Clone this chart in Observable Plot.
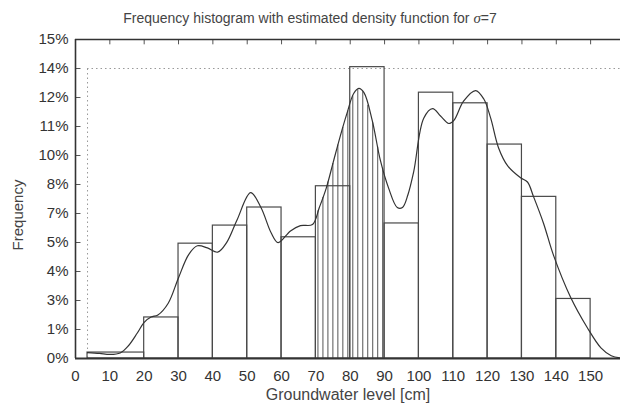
<!DOCTYPE html>
<html>
<head>
<meta charset="utf-8">
<script src="https://cdn.jsdelivr.net/npm/d3@7"></script>
<script src="https://cdn.jsdelivr.net/npm/@observablehq/plot@0.6"></script>
<style>
  html, body { margin: 0; padding: 0; background: #fff; overflow: hidden; }
  #title { width: 620px; height: 30px; line-height: 36px; text-align: center; font-family: "Liberation Sans", Arial, sans-serif; font-size: 14px; color: #444; }
  #title .sig { font-family: "Liberation Serif", "Times New Roman", serif; font-style: italic; font-size: 15px; }
</style>
</head>
<body>
<div id="title">Frequency histogram with estimated density function for <span class="sig">σ</span>=7</div>
<div id="chart"></div>
<script>
// Histogram bins (cm) and relative frequencies (%)
const binStart = [3.5, 20, 30, 40, 50, 60, 70, 80, 90, 100, 110, 120, 130, 140];
const binEnd   = [20, 30, 40, 50, 60, 70, 80, 90, 100, 110, 120, 130, 140, 150];
const freq     = [0.28, 1.93, 5.4, 6.25, 7.1, 5.7, 8.1, 13.7, 6.35, 12.5, 12.0, 10.06, 7.6, 2.8];

// Estimated density curve (sigma = 7)
const curveX = [3.5, 7, 10, 13, 15.4, 18, 20, 22, 24, 27, 30, 33, 35.5, 38.4, 41.4, 44, 47, 51, 54, 57, 59, 62.6, 65.5, 69, 71, 73, 75, 77, 79, 81, 82.5, 84, 86.4, 88.8, 91.2, 93.7, 95.2, 96.8, 98.5, 101.4, 104, 106.3, 108.7, 110.2, 113, 116.5, 118.9, 120.9, 123.2, 125.8, 129.6, 131.6, 133.4, 136.3, 139.2, 144.2, 149, 153, 156, 158.7];
const curveY = [0.28, 0.24, 0.19, 0.26, 0.6, 1.2, 1.7, 1.95, 2.05, 2.6, 3.8, 4.9, 5.3, 5.2, 5.0, 5.45, 6.5, 7.8, 7.1, 5.9, 5.45, 6.0, 6.25, 6.3, 7.1, 8.0, 9.2, 10.4, 11.5, 12.46, 12.7, 12.5, 11.2, 9.3, 8.0, 7.1, 7.1, 7.7, 8.8, 11.3, 11.75, 11.4, 11.05, 11.2, 12.1, 12.6, 12.2, 11.3, 9.9, 9.07, 8.5, 8.3, 7.6, 6.35, 4.85, 2.87, 1.46, 0.5, 0.13, 0.03];

// Axis ticks
const xTicks = [0, 10, 20, 30, 40, 50, 60, 70, 80, 90, 100, 110, 120, 130, 140, 150];
const yTickLabels = ["0%", "1%", "3%", "4%", "5%", "7%", "8%", "10%", "11%", "12%", "14%", "15%"];
const yMax = 15;
const yTicks = yTickLabels.map((_, i) => i * yMax / (yTickLabels.length - 1));

// Data range markers
const dataMin = 3.5;
const hatchFrom = 70, hatchTo = 90;

const bars = binStart.map((s, i) => ({x1: s, x2: binEnd[i], y: freq[i]}));
const curve = curveX.map((x, i) => ({x, y: curveY[i]}));
const interp = x => {
  for (let i = 1; i < curveX.length; i++) {
    if (x <= curveX[i]) {
      const t = (x - curveX[i - 1]) / (curveX[i] - curveX[i - 1]);
      return curveY[i - 1] + t * (curveY[i] - curveY[i - 1]);
    }
  }
  return curveY[curveY.length - 1];
};
const hatch = d3.range(hatchFrom + 0.6, hatchTo, 1.45).map(x => ({x, y: interp(x)}));

const chart = Plot.plot({
  width: 620,
  height: 380,
  marginLeft: 75,
  marginRight: 0,
  marginTop: 9,
  marginBottom: 52,
  style: {fontFamily: "'Liberation Sans', Arial, sans-serif", fontSize: "15px", color: "#333", background: "#fff"},
  x: {domain: [0, 158.7]},
  y: {domain: [0, yMax]},
  marks: [
    Plot.ruleY([yTicks[yTicks.length - 2]], {x1: dataMin, x2: 158.7, stroke: "#999", strokeDasharray: "1.5,3"}),
    Plot.ruleX([dataMin], {y1: 0, y2: yTicks[yTicks.length - 2], stroke: "#999", strokeDasharray: "1.5,3"}),
    Plot.ruleX(hatch, {x: "x", y1: 0, y2: "y", stroke: "#555", strokeWidth: 1}),
    Plot.rectY(bars, {x1: "x1", x2: "x2", y: "y", fill: "none", stroke: "#4a4a4a", strokeWidth: 1.2}),
    Plot.line(curve, {x: "x", y: "y", curve: "catmull-rom", stroke: "#333", strokeWidth: 1.2}),
    Plot.ruleY(yTicks, {x1: 0, x2: 1.6, stroke: "#555"}),
    Plot.ruleX(xTicks, {y1: yMax, y2: yMax - 0.25, stroke: "#555"}),
    Plot.ruleX([0], {y1: 0, y2: yMax, stroke: "#333", strokeWidth: 1.6}),
    Plot.ruleY([0], {stroke: "#333", strokeWidth: 1.8}),
    Plot.ruleY([yMax], {stroke: "#333", strokeWidth: 1.4}),
    Plot.axisX({ticks: xTicks, tickSize: 0, tickPadding: 12, label: null, fill: "#333"}),
    Plot.axisY({ticks: yTicks, tickSize: 0, tickPadding: 7, label: null, tickFormat: (d, i) => yTickLabels[i], fill: "#333"}),
    Plot.text(["Groundwater level [cm]"], {frameAnchor: "bottom", dy: 41, fontSize: 16, fill: "#444"}),
    Plot.text(["Frequency"], {frameAnchor: "left", textAnchor: "middle", dx: -57, dy: 16, rotate: -90, fontSize: 15, fill: "#444"})
  ]
});
document.getElementById("chart").appendChild(chart);
</script>
</body>
</html>
